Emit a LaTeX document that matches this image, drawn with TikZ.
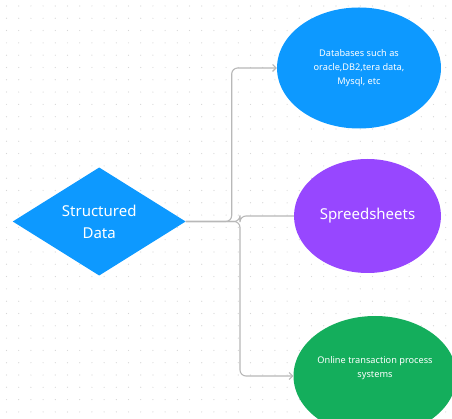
\documentclass[tikz,border=0pt]{standalone}
\usepackage{fontspec}
\setmainfont{Noto Sans}
\usetikzlibrary{shapes.geometric,arrows.meta}
\definecolor{cblue}{HTML}{0D99FF}
\definecolor{cpurple}{HTML}{9747FF}
\definecolor{cgreen}{HTML}{14AE5C}
\definecolor{cline}{HTML}{B8B8B8}
\definecolor{cdot}{HTML}{D6D6D6}
\tikzset{
  conn/.style={draw=cline, line width=1.1pt, rounded corners=6pt},
  tip/.style={-{Straight Barb[length=3.5pt,width=7pt]}},
  bubble/.style={ellipse, inner sep=0pt, text=white, align=center},
  smalltext/.style={font=\fontsize{9.2}{14}\selectfont},
  bigtext/.style={font=\fontsize{15}{22}\selectfont},
}
\begin{document}
\begin{tikzpicture}[x=1pt,y=-1pt]
\useasboundingbox (0,0) rectangle (452,419);
\fill[white] (0,0) rectangle (452,419);
% dotted grid
\foreach \i in {0,...,36}{
  \foreach \j in {0,...,34}{
    \fill[cdot] ({6.5+12.2*\i},{6+12.3*\j}) circle (0.6);
  }
}
\begin{scope}
\clip (0,0) rectangle (452,419);
\node[bubble, fill=cblue, minimum width=164, minimum height=121, smalltext] (db) at (359,68)
  {Databases such as\\oracle,DB2,tera data,\\Mysql, etc};
\node[bubble, fill=cpurple, minimum width=147, minimum height=114, bigtext] (ss) at (367.5,216)
  {Spreedsheets};
\node[bubble, fill=cgreen, minimum width=162, minimum height=120, smalltext] (ol) at (375,376)
  {Online transaction process\\systems\\[4pt]};
\end{scope}
\node[diamond, fill=cblue, inner sep=0pt, minimum width=173, minimum height=103, text=white, align=center, bigtext] (sd) at (99.2,221.5)
  {Structured\\Data};
\coordinate (j1) at (231.7,221.5);
\coordinate (j2) at (240,221.5);
\draw[conn, tip] (sd.east) -- (j1) |- (db.west);
\draw[conn] (sd.east) -- (j2) |- (ss.west);
\draw[conn, tip] (sd.east) -- (j2) |- (ol.west);
\end{tikzpicture}
\end{document}
